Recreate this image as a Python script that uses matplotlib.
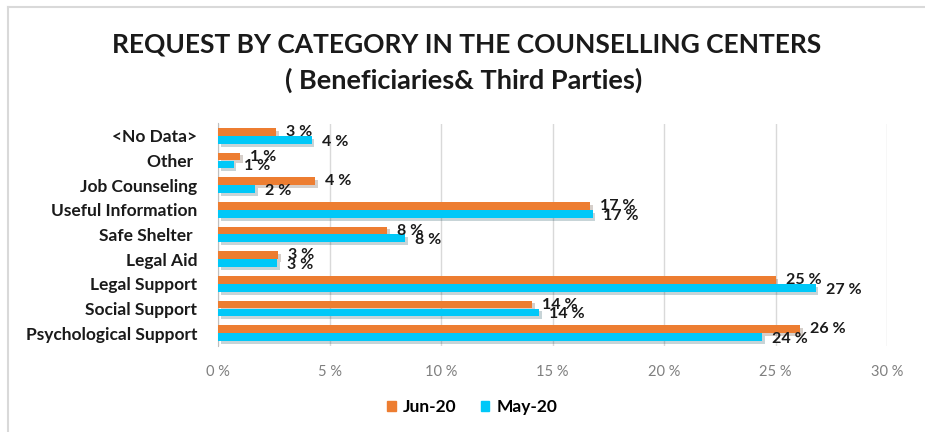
import numpy as np
import matplotlib.pyplot as plt
import matplotlib.patheffects as pe
from matplotlib.lines import Line2D
from matplotlib.patches import Patch

# categories top to bottom
categories = ['<No Data>', 'Other ', 'Job Counseling', 'Useful Information',
              'Safe Shelter ', 'Legal Aid', 'Legal Support', 'Social Support',
              'Psychological Support']
jun20 = [2.6, 1.0, 4.35, 16.7, 7.6, 2.7, 25.0, 14.1, 26.1]
may20 = [4.2, 0.7, 1.65, 16.8, 8.4, 2.65, 26.8, 14.4, 24.4]
xticks = [0, 5, 10, 15, 20, 25, 30]

orange = '#ED7D31'
blue = '#00C8F8'
txt = '#1a1a1a'
font = 'Lato'

fig = plt.figure(figsize=(9.25, 4.32), dpi=100)
ax = fig.add_axes([218/925, 1-345.5/432, (887-218)/925, (345.5-123.5)/432])

y = np.arange(len(categories))
h = 0.32
shadow = [pe.SimplePatchShadow(offset=(2, -2), alpha=0.22), pe.Normal()]
ax.barh(y - h/2, jun20, height=h, color=orange, zorder=3, path_effects=shadow)
ax.barh(y + h/2, may20, height=h, color=blue, zorder=3, path_effects=shadow)

for yy, v in zip(y, jun20):
    ax.annotate(f'{round(v)} %', (v, yy - h/2), xytext=(10, 0), textcoords='offset pixels',
                ha='left', va='center', fontsize=11.5, fontweight='bold',
                color=txt, family=font, zorder=5)
for yy, v in zip(y, may20):
    ax.annotate(f'{round(v)} %', (v, yy + h/2), xytext=(10, -2), textcoords='offset pixels',
                ha='left', va='center', fontsize=11.5, fontweight='bold',
                color=txt, family=font, zorder=5)

ax.set_xlim(0, 30)
ax.set_ylim(len(categories) - 0.5, -0.5)
ax.set_xticks(xticks)
ax.set_xticklabels([f'{t} %' for t in xticks], family=font, fontsize=10.5, color='#7f7f7f')
ax.set_yticks(y)
ax.set_yticklabels(categories, family=font, fontsize=12.5, fontweight='bold', color=txt)
ax.tick_params(axis='both', length=0)
ax.tick_params(axis='x', pad=14)
ax.tick_params(axis='y', pad=15)
ax.grid(axis='x', color='#d9d9d9', linewidth=1, zorder=0)
for s in ['top', 'right', 'bottom']:
    ax.spines[s].set_visible(False)
ax.spines['left'].set_color('#bfbfbf')

fig.text(467/925, 1-45/432, 'REQUEST BY CATEGORY IN THE COUNSELLING CENTERS',
         ha='center', va='center', fontsize=19, fontweight='bold', color=txt, family=font)
fig.text(464/925, 1-80/432, '( Beneficiaries& Third Parties)',
         ha='center', va='center', fontsize=19.5, fontweight='bold', color=txt, family=font)

handles = [Patch(color=orange, label='Jun-20'), Patch(color=blue, label='May-20')]
fig.legend(handles=handles, loc='center', bbox_to_anchor=(472/925, 1-407/432), ncol=2,
           frameon=False, handlelength=0.5, handleheight=0.5, handletextpad=0.4,
           columnspacing=1.4, prop={'family': font, 'weight': 'bold', 'size': 12.5})

# chart frame (top and left edges)
fig.add_artist(Line2D([8/925, 1], [1-7/432, 1-7/432], color='#d9d9d9', lw=1.5))
fig.add_artist(Line2D([8/925, 8/925], [0, 1-7/432], color='#d9d9d9', lw=1.5))

fig.savefig('out.png', dpi=100)
